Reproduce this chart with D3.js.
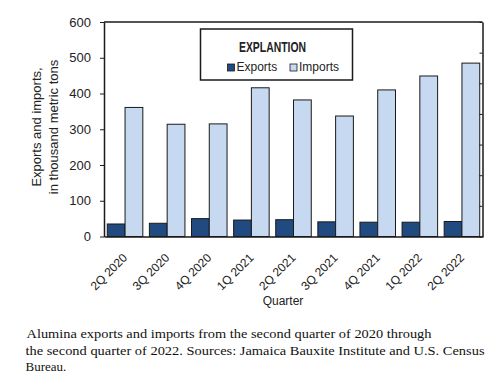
<!DOCTYPE html>
<html>
<head>
<meta charset="utf-8">
<script src="https://cdn.jsdelivr.net/npm/d3@7"></script>
<style>
  html, body { margin: 0; padding: 0; background: #fff; }
  svg { display: block; }
  text { font-family: "Liberation Sans", Arial, sans-serif; fill: #222; }
  .caption { font-family: "Liberation Serif", "Times New Roman", serif; fill: #111; }
</style>
</head>
<body>
<svg id="chart" width="500" height="383"></svg>
<script>
const quarters = ["2Q 2020", "3Q 2020", "4Q 2020", "1Q 2021", "2Q 2021", "3Q 2021", "4Q 2021", "1Q 2022", "2Q 2022"];
const exportsVals = [35, 37, 50, 46, 47, 41, 40, 40, 42];
const importsVals = [361, 314, 315, 416, 382, 337, 410, 449, 485];
const seriesNames = ["Exports", "Imports"];
const seriesColors = ["#214a80", "#c7d9f0"];
const yTicks = [0, 100, 200, 300, 400, 500, 600];
const rightTicks = [0, 1, 2, 3, 4, 5, 6, 7];
const yTitle = ["Exports and imports,", "in thousand metric tons"];
const xTitle = "Quarter";
const legendTitle = "EXPLANTION";
const captionLines = [
  "Alumina exports and imports from the second quarter of 2020 through",
  "the second quarter of 2022. Sources: Jamaica Bauxite Institute and U.S. Census",
  "Bureau."
];

const svg = d3.select("#chart");
const L = 104, R = 483, T = 22, B = 236.5;

const x0 = d3.scaleBand().domain(quarters).range([L, R]).paddingInner(0.156).paddingOuter(0.078);
const x1 = d3.scaleBand().domain(seriesNames).range([0, x0.bandwidth()]);
const y = d3.scaleLinear().domain([0, 600]).range([B, T]);
const yR = d3.scaleLinear().domain([0, 7]).range([B, T]);
const color = d3.scaleOrdinal().domain(seriesNames).range(seriesColors);

const rows = quarters.map((q, i) => ({ q, vals: [{ k: "Exports", v: exportsVals[i] }, { k: "Imports", v: importsVals[i] }] }));

// bars
const g = svg.append("g");
g.selectAll("g.grp").data(rows).join("g").attr("class", "grp")
  .attr("transform", d => `translate(${x0(d.q)},0)`)
  .selectAll("rect").data(d => d.vals).join("rect")
  .attr("x", d => x1(d.k))
  .attr("y", d => y(d.v))
  .attr("width", x1.bandwidth())
  .attr("height", d => y(0) - y(d.v))
  .attr("fill", d => color(d.k))
  .attr("stroke", "#1a1a1a")
  .attr("stroke-width", 1);

// frame top / right
svg.append("line").attr("x1", L).attr("x2", R - 0.5).attr("y1", T).attr("y2", T).attr("stroke", "#1a1a1a").attr("stroke-width", 1.5);

// left axis
const ya = svg.append("g").attr("transform", `translate(${L},0)`)
  .call(d3.axisLeft(y).tickValues(yTicks).tickSize(4).tickPadding(9).tickSizeOuter(0));
ya.select(".domain").attr("stroke", "#1a1a1a").attr("stroke-width", 1.5);
ya.selectAll(".tick line").attr("stroke", "#1a1a1a");
ya.selectAll(".tick text").attr("font-size", 13).attr("fill", "#222").attr("font-family", "Liberation Sans, Arial, sans-serif");

// right axis (inner ticks)
const ra = svg.append("g").attr("transform", `translate(${R - 0.5},0)`)
  .call(d3.axisRight(yR).tickValues(rightTicks).tickSize(-3).tickFormat("").tickSizeOuter(0));
ra.select(".domain").attr("stroke", "#1a1a1a").attr("stroke-width", 1.5);
ra.selectAll(".tick line").attr("stroke", "#1a1a1a");

// bottom axis
const xa = svg.append("g").attr("transform", `translate(0,${B})`)
  .call(d3.axisBottom(x0).tickSize(0).tickSizeOuter(0));
xa.select(".domain").attr("stroke", "#1a1a1a").attr("stroke-width", 1.5);
xa.selectAll(".tick text")
  .attr("font-size", 12).attr("fill", "#222").attr("font-family", "Liberation Sans, Arial, sans-serif")
  .attr("text-anchor", "end")
  .attr("y", 0).attr("dy", "0.35em")
  .attr("transform", "translate(0,19) rotate(-45)");

// y title
const yt = svg.append("text").attr("transform", "translate(0,127) rotate(-90)")
  .attr("text-anchor", "middle").attr("font-size", 13);
yTitle.forEach((t, i) => yt.append("tspan").attr("x", 0).attr("y", 41 + i * 16.5).text(t));

// x title
svg.append("text").attr("x", 283).attr("y", 305).attr("text-anchor", "middle").attr("font-size", 12).text(xTitle);

// legend
const lg = svg.append("g");
lg.append("rect").attr("x", 200.5).attr("y", 29).attr("width", 152).attr("height", 51)
  .attr("fill", "#fff").attr("stroke", "#1a1a1a").attr("stroke-width", 1.5);
lg.append("text").attr("x", 272.5).attr("y", 51.5).attr("text-anchor", "middle")
  .attr("font-size", 14).attr("font-weight", "bold").attr("textLength", 67).attr("lengthAdjust", "spacingAndGlyphs")
  .text(legendTitle);
const legendX = [227.5, 290];
seriesNames.forEach((s, i) => {
  lg.append("rect").attr("x", legendX[i]).attr("y", 64).attr("width", 7).attr("height", 7)
    .attr("fill", color(s)).attr("stroke", "#1a1a1a").attr("stroke-width", 0.8);
  lg.append("text").attr("x", legendX[i] + 9).attr("y", 71).attr("font-size", 12).text(s);
});

// caption
const capX = [26.5, 25.5, 25.5];
const capY = [338, 355, 371];
const capW = [405, 459, null];
captionLines.forEach((t, i) => {
  const tx = svg.append("text").attr("class", "caption").attr("x", capX[i]).attr("y", capY[i]).attr("font-size", 13).text(t);
  if (capW[i]) tx.attr("textLength", capW[i]).attr("lengthAdjust", "spacingAndGlyphs");
});
</script>
</body>
</html>
